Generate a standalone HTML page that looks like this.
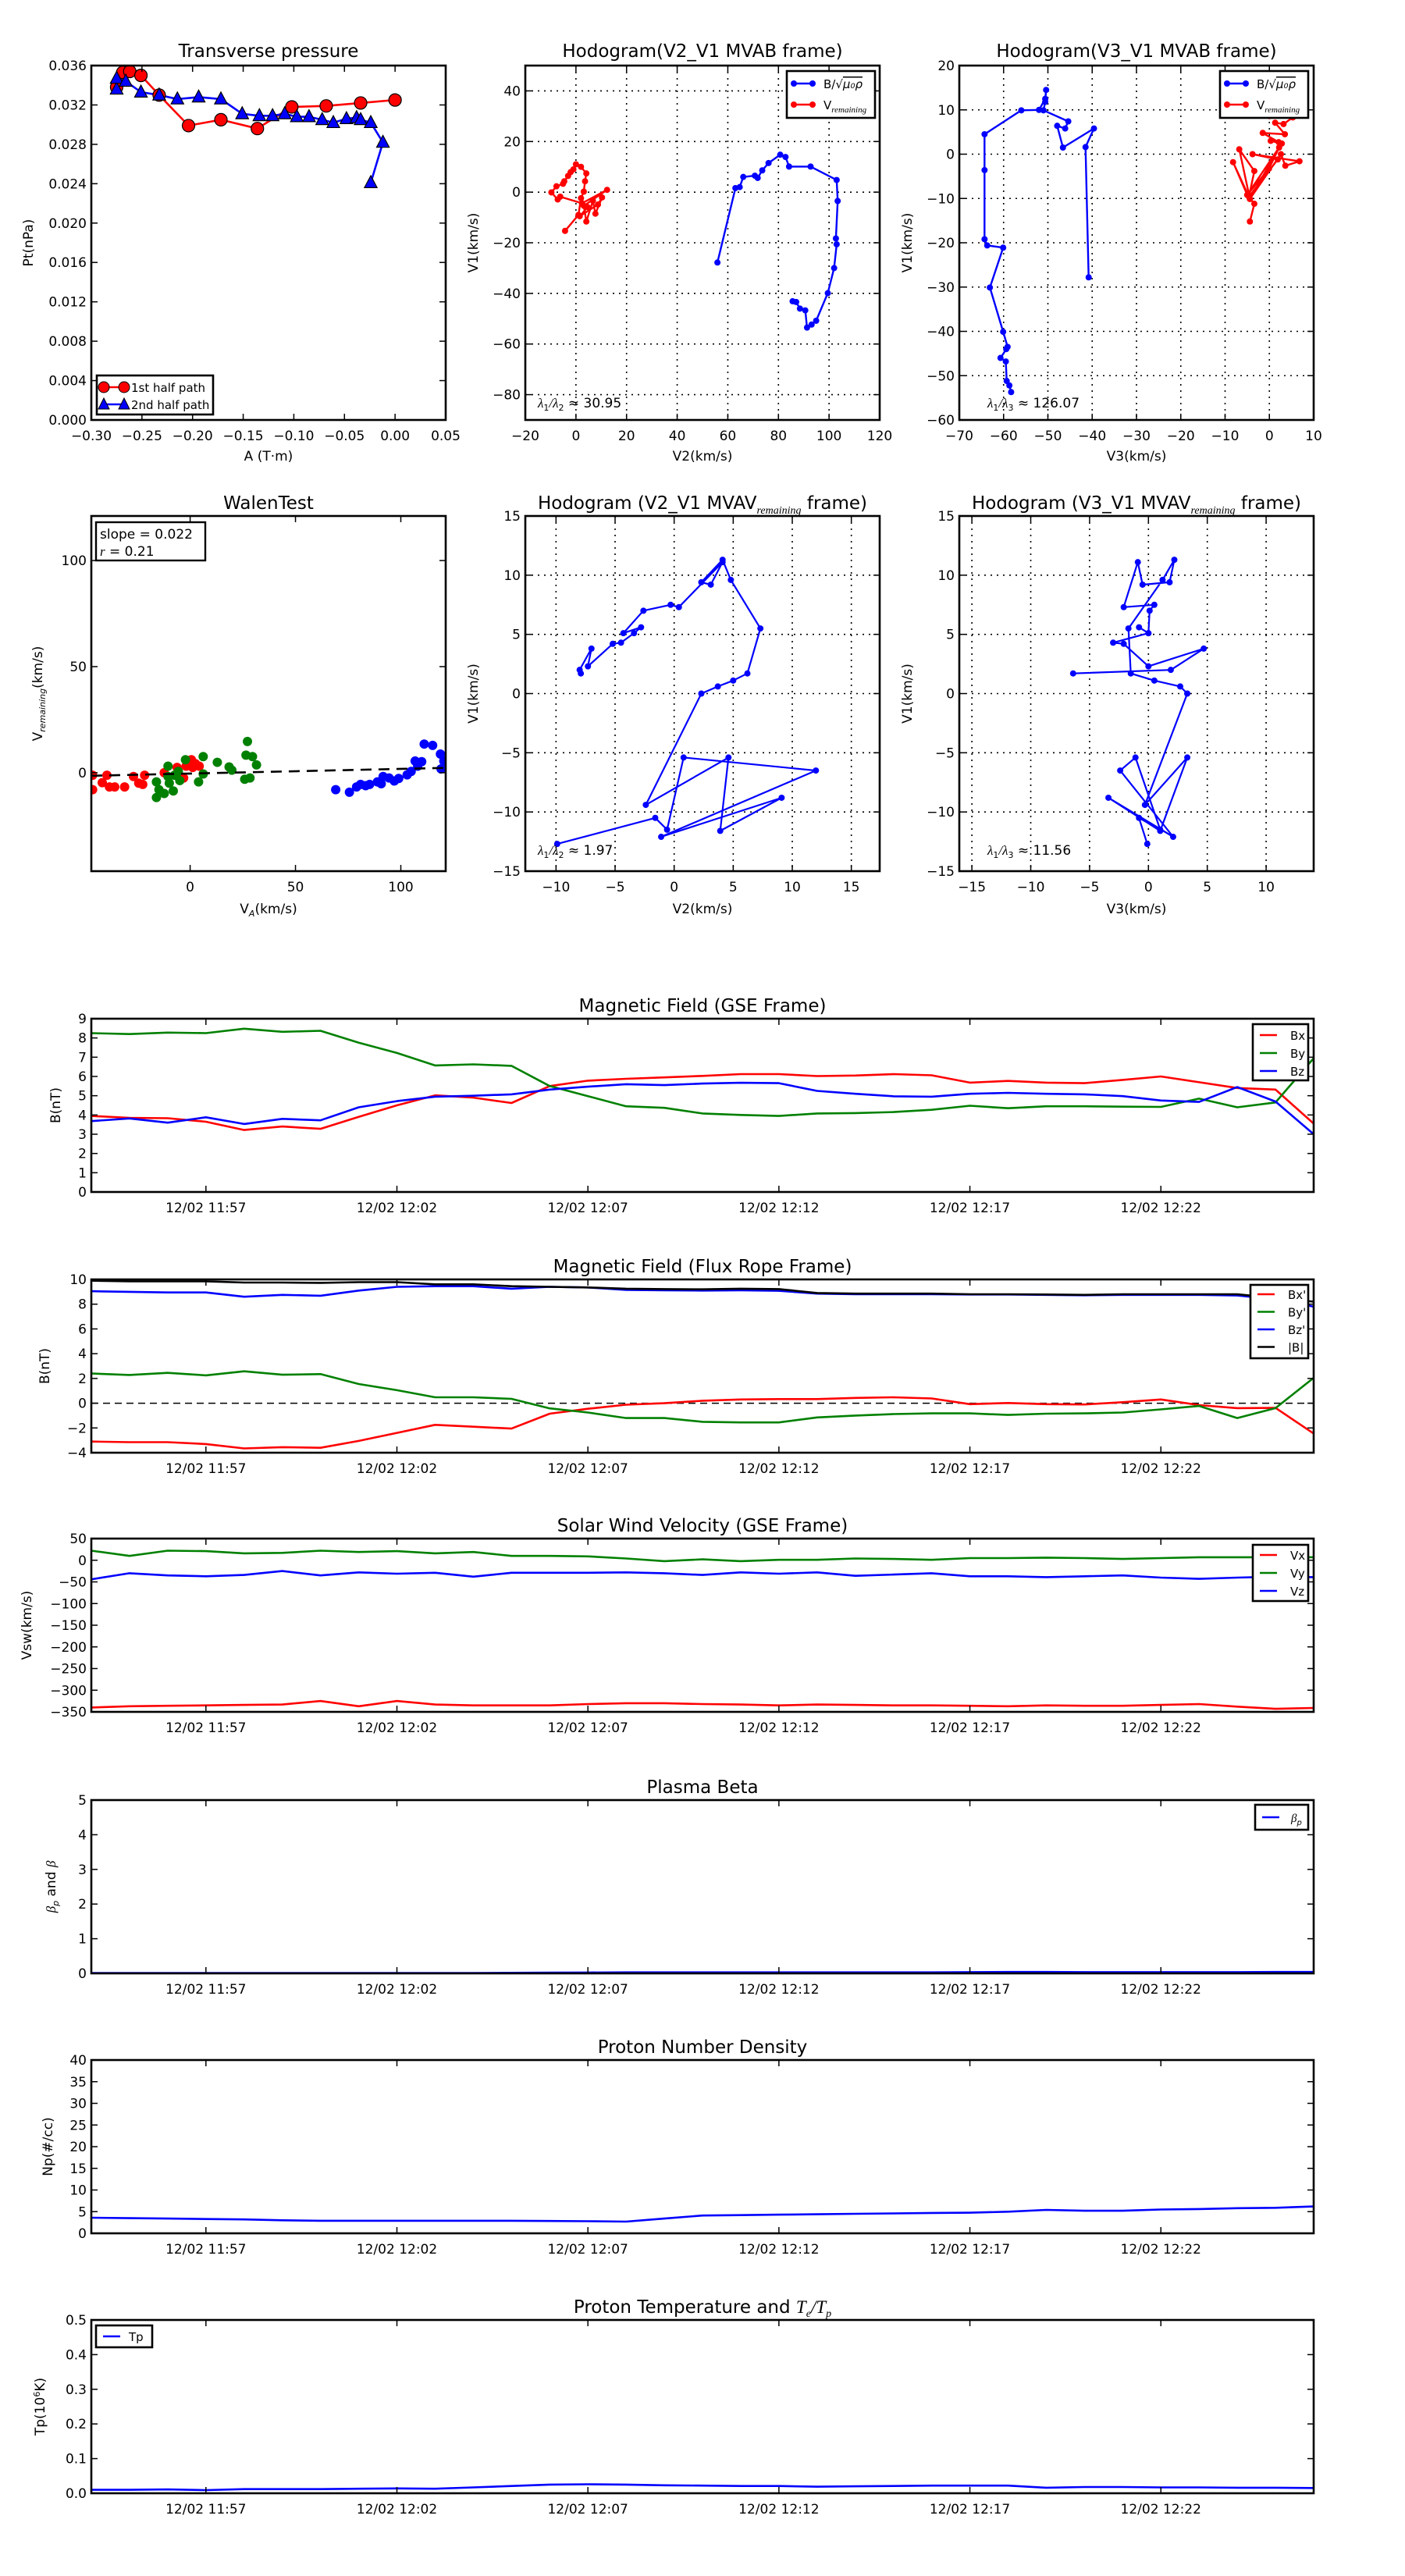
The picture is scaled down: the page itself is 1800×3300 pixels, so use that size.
<!DOCTYPE html>
<html><head><meta charset="utf-8"><style>
html,body{margin:0;padding:0;background:#fff}
svg{display:block}
text{font-family:"DejaVu Sans","Liberation Sans",sans-serif;fill:#000}
</style></head>
<body>
<svg id="fig" xmlns="http://www.w3.org/2000/svg" width="1800" height="3300" viewBox="0 0 1800 3300"><rect width="1800" height="3300" fill="#fff"/></svg>
<script>
// ---------- data ----------
const ptRedA=[-0.275,-0.269,-0.262,-0.251,-0.233,-0.204,-0.172,-0.136,-0.102,-0.068,-0.034,0.0];
const ptRedP=[0.0338,0.0353,0.0354,0.0350,0.0330,0.0299,0.0305,0.0296,0.0318,0.0319,0.0322,0.0325];
const ptBlueA=[-0.275,-0.275,-0.266,-0.251,-0.233,-0.215,-0.194,-0.172,-0.151,-0.134,-0.121,-0.109,-0.097,-0.085,-0.072,-0.061,-0.048,-0.038,-0.034,-0.024,-0.012,-0.024];
const ptBlueP=[0.0336,0.0347,0.0344,0.0333,0.0330,0.0326,0.0328,0.0326,0.0311,0.0309,0.0309,0.0311,0.0308,0.0308,0.0305,0.0302,0.0306,0.0307,0.0305,0.0302,0.0282,0.0241];

const hodoBV1=[-27.8,1.6,2.0,6.0,6.5,5.6,8.6,11.5,14.8,13.9,10.1,10.1,4.8,-3.5,-18.3,-20.6,-30.0,-39.9,-50.8,-52.3,-53.5,-46.7,-46.0,-43.4,-43.1];
const hodoBV2=[55.9,63.0,64.7,66.1,70.7,71.8,73.6,76.1,80.7,82.8,84.2,92.7,103.0,103.4,102.7,103.0,102.0,99.5,94.9,93.1,91.3,90.6,88.5,87.0,85.6];
const hodoRV2=[-4.3,1,2,3.1,3.6,4.1,2,0,-1,-2.1,-3.1,-4.6,-5.1,-7.7,-9.7,-7.2,-6.2,2.4,12.3,3.1,4.1,6.7,7.7,10.3,8.7,1.5,4.6];
const hodoRV1=[-15.3,-9,-2.4,0.2,4.3,7.4,10,11,9,7.9,6.4,4.3,3.3,2.3,-0.1,-2.9,-1.8,-4.4,0.9,-5.4,-11.6,-3.4,-8.5,-2.1,-4.9,-9.5,-5.9];

const hodo3BV3=[-40.8,-41.5,-39.6,-46.6,-47.9,-46.1,-45.4,-51,-50.6,-50.4,-50.6,-52,-56,-64.3,-64.3,-64.3,-63.7,-60.1,-63.1,-60.1,-59.1,-59.4,-60.7,-59.5,-59.3,-58.7,-58.3];
const hodo3BV1=[-27.8,1.6,5.8,1.5,6.4,5.8,7.4,9.9,11.8,14.5,12.5,10,9.9,4.5,-3.6,-19.2,-20.6,-21.1,-30.1,-40.1,-43.5,-44,-46,-46.8,-51.2,-52.2,-53.7];
const hodo3RV3=[-4.4,-3.4,-5,-8.2,-4.4,-6.8,-3.4,-4.6,1.9,-3.8,6.8,3.6,2.6,-4.4,2.2,-0.1,-5,2.8,0.3,2.1,-1.5,3.5,1.3,3.2,5.3,0,5.5];
const hodo3RV1=[-15.2,-11.2,-9.2,-1.8,-10.1,1.1,-3.8,-9.6,-1.2,0,-1.6,-2.6,0,-10.1,1.5,-3.3,-9.2,2.4,3,2.7,4.8,4.5,7.1,6.8,8.3,8.6,9.5];

const walenRedX=[-46.3,-46.3,-39.5,-41.7,-38.3,-35.8,-31.1,-26.9,-24.4,-22.5,-21.6,-12.3,-6.2,-3.1,-1.2,0.6,2.5,4.3,1.2,-1.9];
const walenRedY=[-1.2,-8,-1.2,-4.7,-6.7,-6.7,-6.7,-1.8,-4.9,-5.5,-1.2,0,2.5,-2.5,4.9,6.1,4.3,3.1,2.5,3.1];
const walenGreenX=[-16,-16,-14.8,-12.3,-10.5,-10.5,-9.9,-8,-7.4,-5.6,-4.9,-2.2,4,6.2,6.2,12.9,18.5,19.8,25.9,28.4,27.2,26.5,29.6,31.5];
const walenGreenY=[-4.3,-11.7,-8,-9.8,3.1,-1.8,-4.9,-8.6,-1.2,0.6,-3.7,6.1,-4.3,7.6,-0.6,4.9,2.7,1.2,-3.1,-2.5,14.7,8.3,7.6,3.7];
const walenBlueX=[69.1,75.6,79,80.9,83.3,85.2,88.9,90.7,91.6,94.4,96.9,99,103,104.9,106.8,108,109.9,111.1,115.1,118.8,119.1,120.4];
const walenBlueY=[-8,-9.2,-6.7,-5.5,-6.1,-5.5,-4.3,-5.2,-1.8,-2.5,-3.9,-2.7,-1,0.6,5.5,3.1,5.2,13.5,12.9,8.8,1.8,5.5];
const walenSlope=0.022, walenIntercept=-0.4;

const mvV2=[-7.9,-8.0,-7.0,-7.3,-5.2,-4.5,-3.4,-2.8,-4.3,-2.6,-0.3,0.4,4.1,3.1,2.3,4.1,4.8,7.3,6.2,5.0,3.7,2.3,-2.4,4.6,3.9,9.1,-1.1,12.0,0.8,-0.6,-1.6,-9.9];
const mvV1=[1.7,2.0,3.8,2.3,4.2,4.3,5.1,5.6,5.1,7.0,7.5,7.3,11.1,9.2,9.4,11.3,9.6,5.5,1.7,1.1,0.6,0.0,-9.4,-5.4,-11.6,-8.8,-12.1,-6.5,-5.4,-11.5,-10.5,-12.7];
const mvV3=[-6.4,1.9,4.7,0.0,-2.1,-3.0,0.0,-0.8,0.0,0.1,0.5,-2.1,-0.9,-0.5,1.8,2.2,1.2,-1.7,-1.5,0.5,2.7,3.3,-0.3,3.3,1.0,-3.4,2.1,-2.4,-1.1,1.0,-0.8,-0.1];

// time series (minutes after 11:54)
const tMin=[0,1,2,3,4,5,6,7,8,9,10,11,12,13,14,15,16,17,18,19,20,21,22,23,24,25,26,27,28,29,30,31,32];
const timeTickVals=[3,8,13,18,23,28];
const timeTickLabels=["12/02 11:57","12/02 12:02","12/02 12:07","12/02 12:12","12/02 12:17","12/02 12:22"];
const bx=[3.95,3.85,3.83,3.65,3.22,3.4,3.28,3.9,4.5,5.02,4.9,4.62,5.5,5.78,5.88,5.95,6.03,6.12,6.12,6.02,6.05,6.12,6.06,5.68,5.77,5.68,5.65,5.82,6.0,5.7,5.4,5.32,3.55];
const by=[8.25,8.2,8.28,8.25,8.48,8.32,8.37,7.75,7.22,6.57,6.63,6.55,5.5,4.98,4.45,4.37,4.08,4.0,3.95,4.08,4.1,4.15,4.27,4.48,4.35,4.45,4.45,4.43,4.42,4.85,4.4,4.65,6.95];
const bz=[3.68,3.82,3.6,3.88,3.53,3.8,3.72,4.4,4.72,4.95,5.0,5.07,5.32,5.47,5.6,5.55,5.63,5.67,5.65,5.25,5.1,4.97,4.95,5.1,5.15,5.1,5.07,4.98,4.75,4.68,5.45,4.7,3.0];
const bxp=[-3.1,-3.15,-3.15,-3.3,-3.65,-3.55,-3.6,-3.05,-2.4,-1.75,-1.9,-2.05,-0.85,-0.45,-0.12,0.0,0.2,0.3,0.33,0.33,0.43,0.48,0.38,-0.08,0.02,-0.08,-0.1,0.08,0.3,-0.15,-0.4,-0.38,-2.45];
const byp=[2.4,2.28,2.45,2.25,2.58,2.3,2.35,1.55,1.05,0.48,0.48,0.35,-0.42,-0.75,-1.2,-1.2,-1.5,-1.55,-1.55,-1.15,-1.0,-0.88,-0.82,-0.82,-0.95,-0.85,-0.82,-0.75,-0.5,-0.22,-1.2,-0.4,2.05];
const bzp=[9.05,9.0,8.95,8.95,8.6,8.75,8.68,9.1,9.4,9.45,9.45,9.25,9.4,9.35,9.15,9.12,9.1,9.12,9.08,8.85,8.8,8.8,8.8,8.78,8.78,8.75,8.72,8.75,8.75,8.75,8.7,8.4,7.8];
const bmag=[9.9,9.85,9.85,9.85,9.75,9.75,9.72,9.78,9.78,9.6,9.6,9.45,9.4,9.35,9.25,9.22,9.2,9.25,9.22,8.9,8.85,8.85,8.85,8.8,8.8,8.78,8.75,8.8,8.8,8.8,8.8,8.5,8.2];
const vx=[-340,-337,-336,-335,-334,-333,-325,-337,-325,-333,-335,-335,-335,-332,-330,-330,-332,-333,-335,-333,-334,-335,-335,-336,-337,-335,-336,-336,-334,-332,-338,-343,-341];
const vy=[22,10,22,21,16,17,22,19,21,16,19,10,10,9,4,-2,2,-2,1,1,4,3,1,5,5,6,5,3,5,7,7,7,7];
const vz=[-44,-30,-35,-37,-34,-25,-35,-28,-31,-29,-38,-29,-29,-29,-28,-30,-34,-28,-31,-28,-36,-33,-30,-37,-37,-39,-37,-35,-40,-43,-40,-38,-39];
const betaP=[0.01,0.01,0.01,0.01,0.01,0.01,0.01,0.01,0.01,0.01,0.01,0.015,0.02,0.025,0.03,0.03,0.03,0.03,0.03,0.03,0.03,0.03,0.03,0.035,0.04,0.04,0.035,0.035,0.035,0.035,0.035,0.04,0.04];
const np=[3.6,3.5,3.4,3.3,3.2,3.0,2.9,2.9,2.9,2.9,2.9,2.9,2.85,2.8,2.7,3.4,4.1,4.2,4.3,4.4,4.5,4.6,4.7,4.75,5.0,5.4,5.2,5.2,5.5,5.6,5.8,5.9,6.2];
const tp=[0.01,0.01,0.011,0.009,0.012,0.012,0.012,0.013,0.014,0.013,0.017,0.021,0.025,0.026,0.025,0.023,0.022,0.021,0.021,0.019,0.02,0.021,0.022,0.022,0.022,0.016,0.018,0.018,0.017,0.017,0.016,0.016,0.015];

// ---------- helpers ----------
const NS='http://www.w3.org/2000/svg';
const root=document.getElementById('fig');
let clipId=0;
function mk(tag,attrs,parent){const e=document.createElementNS(NS,tag);for(const k in attrs)e.setAttribute(k,attrs[k]);(parent||root).appendChild(e);return e;}
function txt(s,attrs,parent){const e=mk('text',attrs,parent);e.textContent=s;return e;}
function range(a,b,s){const r=[];for(let v=a;v<=b+1e-9;v+=s)r.push(Math.round(v*1e6)/1e6);return r;}
function fmtMinus(s){return s.replace('-','\u2212');}

function axes(c){
  const g=mk('g',{});
  
  
  const sx=v=>c.x+(v-c.xmin)/(c.xmax-c.xmin)*c.w;
  const sy=v=>c.y+c.h-(v-c.ymin)/(c.ymax-c.ymin)*c.h;
  const X2=c.x+c.w,Y2=c.y+c.h;
  if(c.grid){
    const gg=mk('g',{stroke:'#000','stroke-width':1.6,'stroke-dasharray':'2,6'},g);
    
    
    c.xticks.forEach(v=>{mk('line',{x1:sx(v),x2:sx(v),y1:c.y,y2:Y2},gg);});
    c.yticks.forEach(v=>{mk('line',{x1:c.x,x2:X2,y1:sy(v),y2:sy(v)},gg);});
  }
  const cid='clip'+(clipId++);
  const cp=mk('clipPath',{id:cid},g);mk('rect',{x:c.x,y:c.y,width:c.w,height:c.h},cp);
  const data=mk('g',{'clip-path':'url(#'+cid+')'},g);
  
  
  const over=mk('g',{},g);
  // frame & ticks
  const fr=mk('rect',{x:c.x,y:c.y,width:c.w,height:c.h,fill:'none',stroke:'#000','stroke-width':2.6},over);
  
  
  const tk=mk('g',{stroke:'#000','stroke-width':1.5},over);
  c.xticks.forEach((v,i)=>{
    const X=sx(v);
    mk('line',{x1:X,x2:X,y1:Y2,y2:Y2-8},tk);mk('line',{x1:X,x2:X,y1:c.y,y2:c.y+8},tk);
    const lab=c.xlabels?c.xlabels[i]:fmtMinus(c.xfmt?c.xfmt(v):String(v));
    const t=txt(lab,{x:X,y:Y2+26,'text-anchor':'middle','font-size':17},over);
    
    
  });
  c.yticks.forEach(v=>{
    const Y=sy(v);
    mk('line',{x1:c.x,x2:c.x+8,y1:Y,y2:Y},tk);mk('line',{x1:X2,x2:X2-8,y1:Y,y2:Y},tk);
    const t=txt(fmtMinus(c.yfmt?c.yfmt(v):String(v)),{x:c.x-6,y:Y+6,'text-anchor':'end','font-size':17},over);
    
    
  });
  if(c.title){
    const t=mk('text',{x:c.x+c.w/2,y:c.titleY,'text-anchor':'middle','font-size':23},over);
    t.innerHTML=c.title;
    
    
  }
  if(c.xlabel){
    const t=mk('text',{x:c.x+c.w/2,y:c.xlabelY,'text-anchor':'middle','font-size':17},over);
    t.innerHTML=c.xlabel;
    
    
  }
  if(c.ylabel){
    const cy=c.y+c.h/2;
    const t=mk('text',{x:c.ylabelX,y:cy,'text-anchor':'middle','font-size':17,transform:'rotate(-90 '+c.ylabelX+' '+cy+')'},over);
    t.innerHTML=c.ylabel;
    
    
  }
  return {sx,sy,data,over,g};
}
function polyline(ax,xs,ys,color,w){
  const pts=xs.map((x,i)=>ax.sx(x).toFixed(1)+','+ax.sy(ys[i]).toFixed(1)).join(' ');
  return mk('polyline',{points:pts,fill:'none',stroke:color,'stroke-width':w||2.6,'stroke-linejoin':'round'},ax.data);
}
function dots(ax,xs,ys,color,r,edge){
  const g=mk('g',{fill:color,stroke:edge||'none','stroke-width':edge?1.2:0},ax.data);
  xs.forEach((x,i)=>{
    const d=mk('circle',{cx:ax.sx(x),cy:ax.sy(ys[i]),r:r},g);
    
    
  });
  return g;
}
function tris(ax,xs,ys,color,s){
  const g=mk('g',{fill:color,stroke:'#000','stroke-width':1.2},ax.data);
  xs.forEach((x,i)=>{
    const X=ax.sx(x),Y=ax.sy(ys[i]);
    const d=mk('polygon',{points:`${X},${Y-s} ${X-s*0.9},${Y+s*0.7} ${X+s*0.9},${Y+s*0.7}`},g);
    
    
  });
  return g;
}
function legendBox(parent,x,y,w,h){
  const r=mk('rect',{x:x,y:y,width:w,height:h,fill:'#fff',stroke:'#000','stroke-width':2.6},parent);
  return r;
}

// ---------- Panel 1: transverse pressure ----------
{
const ax=axes({name:'transverse-pressure-chart',x:117,y:84,w:454,h:454,xmin:-0.30,xmax:0.05,ymin:0,ymax:0.036,
  xticks:range(-0.30,0.05,0.05),yticks:range(0,0.036,0.004),xfmt:v=>v.toFixed(2),yfmt:v=>v.toFixed(3),
  title:'Transverse pressure',titleY:73,xlabel:'A (T·m)',xlabelY:590,ylabel:'Pt(nPa)',ylabelX:42});
const l1=polyline(ax,ptRedA,ptRedP,'#f00',2.6);


const l2=polyline(ax,ptBlueA,ptBlueP,'#00f',2.6);


const m1=dots(ax,ptRedA,ptRedP,'#f00',8,'#000');


const m2=tris(ax,ptBlueA,ptBlueP,'#00f',9);


const lg=mk('g',{},ax.over);


legendBox(lg,124,481,149,50);
mk('line',{x1:132,x2:160,y1:496,y2:496,stroke:'#f00','stroke-width':2.6},lg);
mk('circle',{cx:133,cy:496,r:7,fill:'#f00',stroke:'#000'},lg);mk('circle',{cx:159,cy:496,r:7,fill:'#f00',stroke:'#000'},lg);
const e1=txt('1st half path',{x:168,y:502,'font-size':15},lg);


mk('line',{x1:132,x2:160,y1:518,y2:518,stroke:'#00f','stroke-width':2.6},lg);
mk('polygon',{points:'133,510 126,524 140,524',fill:'#00f',stroke:'#000'},lg);mk('polygon',{points:'159,510 152,524 166,524',fill:'#00f',stroke:'#000'},lg);
const e2=txt('2nd half path',{x:168,y:524,'font-size':15},lg);


}

// hodogram legend helper
function hodoLegend(ax,x,y){
  const lg=mk('g',{},ax.over);
  
  
  legendBox(lg,x,y,113,60);
  mk('line',{x1:x+8,x2:x+34,y1:y+16,y2:y+16,stroke:'#00f','stroke-width':2.6},lg);
  mk('circle',{cx:x+9,cy:y+16,r:4,fill:'#00f'},lg);mk('circle',{cx:x+33,cy:y+16,r:4,fill:'#00f'},lg);
  const a=mk('text',{x:x+47,y:y+22,'font-size':15},lg);
  a.innerHTML='B/√<tspan font-style="italic" text-decoration="overline">μ₀ρ</tspan>';
  
  
  mk('line',{x1:x+8,x2:x+34,y1:y+43,y2:y+43,stroke:'#f00','stroke-width':2.6},lg);
  mk('circle',{cx:x+9,cy:y+43,r:4,fill:'#f00'},lg);mk('circle',{cx:x+33,cy:y+43,r:4,fill:'#f00'},lg);
  const b=mk('text',{x:x+47,y:y+49,'font-size':15},lg);
  b.innerHTML='V<tspan font-size="11" font-style="italic" dy="4" font-family="Liberation Serif">remaining</tspan>';
  
  
}

// ---------- Panel 2 ----------
{
const ax=axes({name:'hodogram-v2-v1-mvab-chart',x:673,y:84,w:454,h:454,xmin:-20,xmax:120,ymin:-90,ymax:50,
  xticks:range(-20,120,20),yticks:range(-80,40,20),grid:true,
  title:'Hodogram(V2_V1 MVAB frame)',titleY:73,xlabel:'V2(km/s)',xlabelY:590,ylabel:'V1(km/s)',ylabelX:612});
const l=polyline(ax,hodoBV2,hodoBV1,'#00f',2.4);


dots(ax,hodoBV2,hodoBV1,'#00f',4);
const r=polyline(ax,hodoRV2,hodoRV1,'#f00',2.4);


dots(ax,hodoRV2,hodoRV1,'#f00',4);
hodoLegend(ax,1008,91);
const t=mk('text',{x:689,y:522,'font-size':17},ax.over);
t.innerHTML='<tspan font-style="italic" font-family="Liberation Serif">λ</tspan><tspan font-size="11" dy="4">1</tspan><tspan dy="-4" font-style="italic" font-family="Liberation Serif">/λ</tspan><tspan font-size="11" dy="4">2</tspan><tspan dy="-4"> ≈ 30.95</tspan>';


}

// ---------- Panel 3 ----------
{
const ax=axes({name:'hodogram-v3-v1-mvab-chart',x:1229,y:84,w:454,h:454,xmin:-70,xmax:10,ymin:-60,ymax:20,
  xticks:range(-70,10,10),yticks:range(-60,20,10),grid:true,
  title:'Hodogram(V3_V1 MVAB frame)',titleY:73,xlabel:'V3(km/s)',xlabelY:590,ylabel:'V1(km/s)',ylabelX:1168});
const l=polyline(ax,hodo3BV3,hodo3BV1,'#00f',2.4);


dots(ax,hodo3BV3,hodo3BV1,'#00f',4);
const r=polyline(ax,hodo3RV3,hodo3RV1,'#f00',2.4);


dots(ax,hodo3RV3,hodo3RV1,'#f00',4);
hodoLegend(ax,1563,91);
const t=mk('text',{x:1265,y:522,'font-size':17},ax.over);
t.innerHTML='<tspan font-style="italic" font-family="Liberation Serif">λ</tspan><tspan font-size="11" dy="4">1</tspan><tspan dy="-4" font-style="italic" font-family="Liberation Serif">/λ</tspan><tspan font-size="11" dy="4">3</tspan><tspan dy="-4"> ≈ 126.07</tspan>';


}

// ---------- Walen test ----------
{
const ax=axes({name:'walen-test-chart',x:117,y:661,w:454,h:455,xmin:-46.9,xmax:121.3,ymin:-46.4,ymax:121,
  xticks:[0,50,100],yticks:[0,50,100],
  title:'WalenTest',titleY:652,xlabel:'V<tspan font-size="11" font-style="italic" dy="4">A</tspan><tspan dy="-4">(km/s)</tspan>',xlabelY:1170,
  ylabel:'V<tspan font-size="11" font-style="italic" dy="4">remaining</tspan><tspan dy="-4">(km/s)</tspan>',ylabelX:54});
const a=dots(ax,walenRedX,walenRedY,'#f00',6);


const b=dots(ax,walenGreenX,walenGreenY,'#008000',6);


const c=dots(ax,walenBlueX,walenBlueY,'#00f',6);


const fx=[-46.9,121.3];
const fl=mk('line',{x1:ax.sx(fx[0]),y1:ax.sy(walenSlope*fx[0]+walenIntercept),x2:ax.sx(fx[1]),y2:ax.sy(walenSlope*fx[1]+walenIntercept),stroke:'#000','stroke-width':2.6,'stroke-dasharray':'14,9'},ax.data);


const bx0=mk('g',{},ax.over);


mk('rect',{x:123,y:669,width:140,height:49,fill:'#fff',stroke:'#000','stroke-width':2.4},bx0);
txt('slope = 0.022',{x:128,y:690,'font-size':17},bx0);
const r=mk('text',{x:128,y:712,'font-size':17},bx0);
r.innerHTML='<tspan font-style="italic" font-family="Liberation Serif">r</tspan> = 0.21';
}

// ---------- MVAV hodograms ----------
const mvTitleA='Hodogram (V2_V1 MVAV<tspan font-size="14" font-style="italic" dy="6" font-family="Liberation Serif">remaining</tspan><tspan dy="-6"> frame)</tspan>';
{
const ax=axes({name:'hodogram-v2-v1-mvav-chart',x:673,y:661,w:454,h:455,xmin:-12.6,xmax:17.4,ymin:-15,ymax:15,
  xticks:range(-10,15,5),yticks:range(-15,15,5),grid:true,
  title:mvTitleA,titleY:652,xlabel:'V2(km/s)',xlabelY:1170,ylabel:'V1(km/s)',ylabelX:612});
const l=polyline(ax,mvV2,mvV1,'#00f',2.2);


dots(ax,mvV2,mvV1,'#00f',4);
const t=mk('text',{x:689,y:1095,'font-size':17},ax.over);
t.innerHTML='<tspan font-style="italic" font-family="Liberation Serif">λ</tspan><tspan font-size="11" dy="4">1</tspan><tspan dy="-4" font-style="italic" font-family="Liberation Serif">/λ</tspan><tspan font-size="11" dy="4">2</tspan><tspan dy="-4"> ≈ 1.97</tspan>';


}
{
const ax=axes({name:'hodogram-v3-v1-mvav-chart',x:1229,y:661,w:454,h:455,xmin:-16.07,xmax:14.04,ymin:-15,ymax:15,
  xticks:range(-15,10,5),yticks:range(-15,15,5),grid:true,
  title:'Hodogram (V3_V1 MVAV<tspan font-size="14" font-style="italic" dy="6" font-family="Liberation Serif">remaining</tspan><tspan dy="-6"> frame)</tspan>',titleY:652,xlabel:'V3(km/s)',xlabelY:1170,ylabel:'V1(km/s)',ylabelX:1168});
const l=polyline(ax,mvV3,mvV1,'#00f',2.2);


dots(ax,mvV3,mvV1,'#00f',4);
const t=mk('text',{x:1265,y:1095,'font-size':17},ax.over);
t.innerHTML='<tspan font-style="italic" font-family="Liberation Serif">λ</tspan><tspan font-size="11" dy="4">1</tspan><tspan dy="-4" font-style="italic" font-family="Liberation Serif">/λ</tspan><tspan font-size="11" dy="4">3</tspan><tspan dy="-4"> ≈ 11.56</tspan>';


}

// ---------- time series ----------
function ts(c){
  const ax=axes({name:c.name,x:117,y:c.top,w:1566,h:222,xmin:0,xmax:32,ymin:c.ymin,ymax:c.ymax,
    xticks:timeTickVals,xlabels:timeTickLabels,yticks:c.yticks,yfmt:c.yfmt,
    title:c.title,titleY:c.top-9,ylabel:c.ylabel,ylabelX:c.ylabelX});
  if(c.zero){
    const z=mk('line',{x1:117,x2:1683,y1:ax.sy(0),y2:ax.sy(0),stroke:'#000','stroke-width':1.5,'stroke-dasharray':'9,6'},ax.data);
    
    
  }
  c.series.forEach(s=>{
    const l=polyline(ax,tMin,s.vals,s.color,2.6);
    
    
  });
  if(c.legend){
    const L=c.legend;
    const lg=mk('g',{},ax.over);
    
    
    legendBox(lg,L.x,L.y,L.w,L.h);
    c.series.forEach((s,i)=>{
      const yy=L.y+L.pad+i*L.step;
      mk('line',{x1:L.x+9,x2:L.x+31,y1:yy,y2:yy,stroke:s.color,'stroke-width':2.6},lg);
      const t=mk('text',{x:L.x+(L.tx||50),y:yy+6,'font-size':15},lg);
      t.innerHTML=s.label;
      
      
    });
  }
}
ts({name:'magnetic-field-gse-chart',top:1305,ymin:0,ymax:9,yticks:range(0,9,1),title:'Magnetic Field (GSE Frame)',ylabel:'B(nT)',ylabelX:77,
  series:[{key:'bx',vals:bx,color:'#f00',label:'Bx'},{key:'by',vals:by,color:'#008000',label:'By'},{key:'bz',vals:bz,color:'#00f',label:'Bz'}],
  legend:{x:1605,y:1312,w:71,h:72,pad:14,step:23,tx:48}});
ts({name:'magnetic-field-flux-rope-chart',top:1639,ymin:-4,ymax:10,yticks:range(-4,10,2),title:'Magnetic Field (Flux Rope Frame)',ylabel:'B(nT)',ylabelX:63,zero:true,
  series:[{key:'bx-prime',vals:bxp,color:'#f00',label:"Bx'"},{key:'by-prime',vals:byp,color:'#008000',label:"By'"},{key:'bz-prime',vals:bzp,color:'#00f',label:"Bz'"},{key:'b-mag',vals:bmag,color:'#000',label:'|B|'}],
  legend:{x:1602,y:1646,w:74,h:94,pad:12,step:22.5,tx:48}});
ts({name:'solar-wind-velocity-chart',top:1971,ymin:-350,ymax:50,yticks:range(-350,50,50),title:'Solar Wind Velocity (GSE Frame)',ylabel:'Vsw(km/s)',ylabelX:40,
  series:[{key:'vx',vals:vx,color:'#f00',label:'Vx'},{key:'vy',vals:vy,color:'#008000',label:'Vy'},{key:'vz',vals:vz,color:'#00f',label:'Vz'}],
  legend:{x:1605,y:1979,w:71,h:72,pad:13,step:23,tx:48}});
ts({name:'plasma-beta-chart',top:2306,ymin:0,ymax:5,yticks:range(0,5,1),title:'Plasma Beta',
  ylabel:'<tspan font-style="italic" font-family="Liberation Serif">β</tspan><tspan font-size="11" dy="4" font-style="italic">p</tspan><tspan dy="-4"> and </tspan><tspan font-style="italic" font-family="Liberation Serif">β</tspan>',ylabelX:71,
  series:[{key:'beta-p',vals:betaP,color:'#00f',label:'<tspan font-style="italic" font-family="Liberation Serif">β</tspan><tspan font-size="10" dy="4" font-style="italic">p</tspan>'}],
  legend:{x:1608,y:2312,w:68,h:32,pad:16,step:22,tx:46}});
ts({name:'proton-density-chart',top:2639,ymin:0,ymax:40,yticks:range(0,40,5),title:'Proton Number Density',ylabel:'Np(#/cc)',ylabelX:67,
  series:[{key:'np',vals:np,color:'#00f',label:'Np'}]});
ts({name:'proton-temperature-chart',top:2972,ymin:0,ymax:0.5,yticks:range(0,0.5,0.1),yfmt:v=>v.toFixed(1),
  title:'Proton Temperature and <tspan font-style="italic" font-family="Liberation Serif">T</tspan><tspan font-size="14" font-style="italic" dy="5" font-family="Liberation Serif">e</tspan><tspan dy="-5" font-style="italic" font-family="Liberation Serif">/T</tspan><tspan font-size="14" font-style="italic" dy="5" font-family="Liberation Serif">p</tspan>',
  ylabel:'Tp(10<tspan font-size="11" dy="-6">6</tspan><tspan dy="6">K)</tspan>',ylabelX:57,
  series:[{key:'tp',vals:tp,color:'#00f',label:'Tp'}],
  legend:{x:123,y:2979,w:72,h:28,pad:14,step:22,tx:42}});
</script>
</body></html>
